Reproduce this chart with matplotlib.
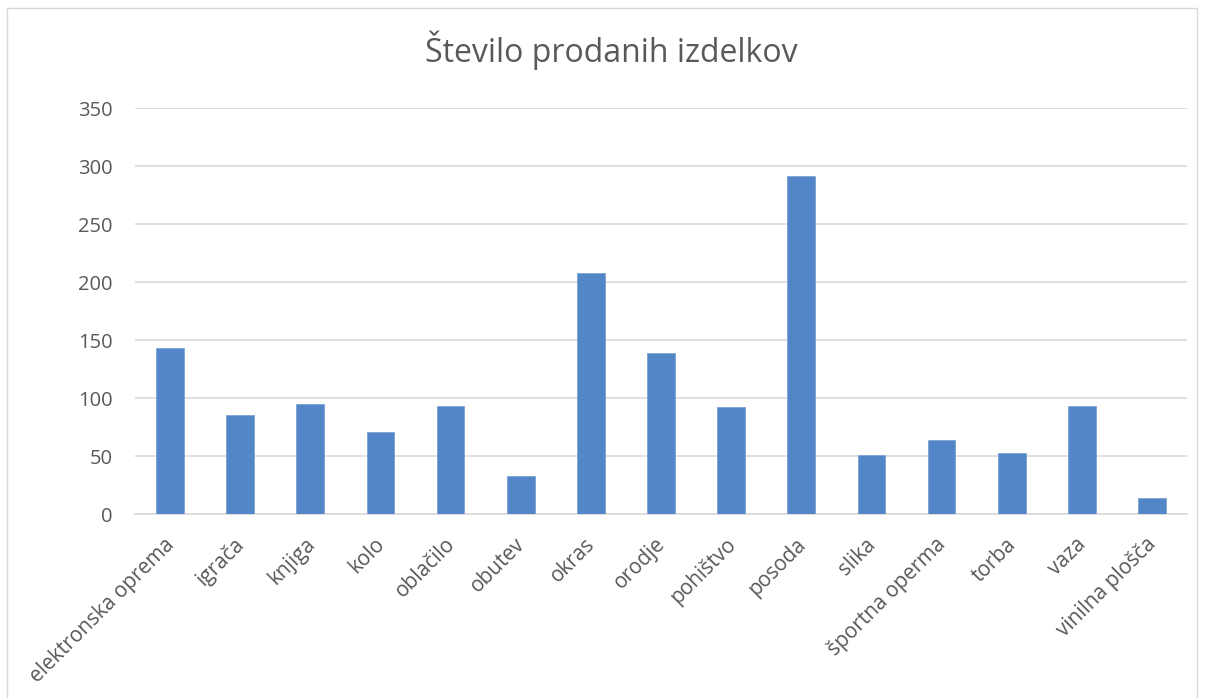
import matplotlib.pyplot as plt
import matplotlib.transforms as mtransforms
from matplotlib.patches import Rectangle

categories = ['elektronska oprema', 'igrača', 'knjiga', 'kolo', 'oblačilo', 'obutev',
              'okras', 'orodje', 'pohištvo', 'posoda', 'slika', 'športna operma',
              'torba', 'vaza', 'vinilna plošča']
values = [143, 85, 95, 71, 93, 33, 208, 139, 92, 292, 51, 64, 53, 93, 14]
yticks = [0, 50, 100, 150, 200, 250, 300, 350]

plt.rcParams['font.family'] = ['Open Sans', 'DejaVu Sans']
text_color = '#595959'
grid_color = '#d9d9d9'

fig = plt.figure(figsize=(12.06, 6.98), dpi=100)
ax = fig.add_axes([135 / 1206, 1 - 514 / 698, (1187 - 135) / 1206, (514 - 108.3) / 698])

# outer chart border
fig.patches.append(Rectangle((7 / 1206, -0.1), (1197 - 7) / 1206, 1.1 - 8 / 698,
                             transform=fig.transFigure, fill=False,
                             edgecolor=grid_color, linewidth=1))

x = list(range(len(categories)))
ax.bar(x, values, width=0.395, color='#5386C6', edgecolor='#7aa3d6', linewidth=0.6, zorder=3)

ax.set_xlim(-0.5, len(categories) - 0.5)
ax.set_ylim(0, 350)
ax.set_yticks(yticks)
ax.set_yticklabels([str(v) for v in yticks], fontsize=14.5, color=text_color)
ax.set_xticks(x)
ax.set_xticklabels(categories, fontsize=15, color=text_color, rotation=45,
                   ha='right', va='top', rotation_mode='anchor')
ax.tick_params(axis='y', length=0, pad=16)
ax.tick_params(axis='x', length=0, pad=10)
# nudge rotated labels so their ends sit just right of the tick
shift = mtransforms.ScaledTranslation(-6 / 100, -6 / 100, fig.dpi_scale_trans)
for lbl in ax.get_xticklabels():
    lbl.set_transform(lbl.get_transform() + shift)
ax.grid(axis='y', color=grid_color, linewidth=1.2, zorder=0)
for s in ['top', 'right', 'left']:
    ax.spines[s].set_visible(False)
ax.spines['bottom'].set_color(grid_color)
ax.spines['bottom'].set_linewidth(1.2)

fig.text(611 / 1206, 1 - 50 / 698, 'Število prodanih izdelkov', ha='center', va='center',
         fontsize=23, color=text_color)

fig.savefig('out.png', dpi=100)
